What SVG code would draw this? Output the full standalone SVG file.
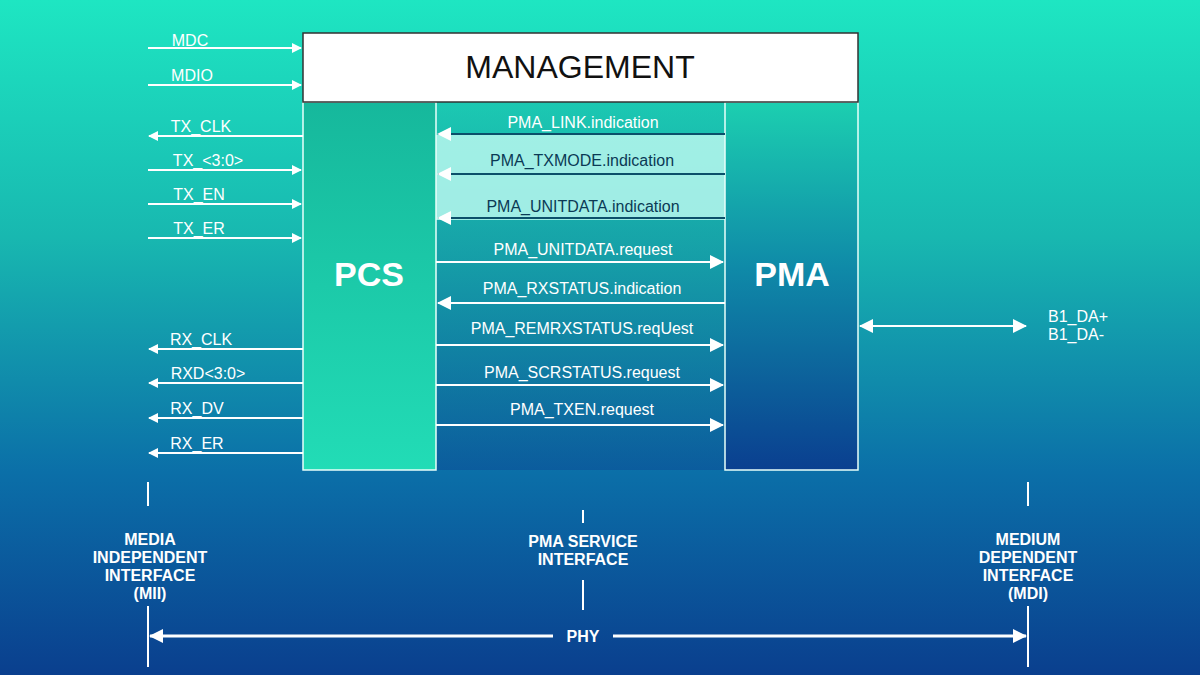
<svg xmlns="http://www.w3.org/2000/svg" width="1200" height="675" viewBox="0 0 1200 675">
<defs>
<linearGradient id="bg" x1="0" y1="0" x2="0" y2="1"><stop offset="0" stop-color="#1ee6c2"/><stop offset="0.35" stop-color="#18b8b0"/><stop offset="0.7" stop-color="#0b6fa8"/><stop offset="1" stop-color="#0a3f8e"/></linearGradient>
<linearGradient id="pcs" x1="0" y1="0" x2="0" y2="1"><stop offset="0" stop-color="#16b89c"/><stop offset="1" stop-color="#22dcb6"/></linearGradient>
<linearGradient id="pma" x1="0" y1="0" x2="0" y2="1"><stop offset="0" stop-color="#1ccfb0"/><stop offset="0.45" stop-color="#0f8aa8"/><stop offset="1" stop-color="#0a3f90"/></linearGradient>
<linearGradient id="mid" x1="0" y1="0" x2="0" y2="1"><stop offset="0" stop-color="#1cc2ac"/><stop offset="1" stop-color="#0b4f96"/></linearGradient>
<marker id="ah" markerWidth="10" markerHeight="10" refX="9" refY="5" orient="auto-start-reverse" markerUnits="userSpaceOnUse"><path d="M0,0 L10,5 L0,10 z" fill="#fff"/></marker>
<marker id="ahw" markerWidth="14" markerHeight="14" refX="13" refY="7" orient="auto-start-reverse" markerUnits="userSpaceOnUse"><path d="M0,0 L14,7 L0,14 z" fill="#fff"/></marker>
<style>
.l{stroke:#fff;stroke-width:2;fill:none}
.d{stroke:#0b4f6a;stroke-width:2;fill:none}
.t{font-family:"Liberation Sans",Arial,sans-serif;font-size:16px;fill:#fff;text-anchor:middle}
.td{font-family:"Liberation Sans",Arial,sans-serif;font-size:16px;fill:#0b3a55;text-anchor:middle}
.b{font-family:"Liberation Sans",Arial,sans-serif;font-size:16px;font-weight:bold;fill:#fff;text-anchor:middle}
.big{font-family:"Liberation Sans",Arial,sans-serif;font-size:34px;font-weight:bold;fill:#fff;text-anchor:middle}
</style>
</defs>
<rect width="1200" height="675" fill="url(#bg)"/>
<rect x="436" y="102" width="289" height="368" fill="url(#mid)" opacity="0.6"/>
<rect x="436" y="135" width="289" height="85" fill="#b8f8ee" opacity="0.85"/>
<g id="pcs-node"><rect x="303" y="102" width="133" height="368" fill="url(#pcs)" stroke="#e8fffa" stroke-width="1.5"/><text class="big" x="369" y="286">PCS</text></g>
<g id="pma-node"><rect x="725" y="102" width="133" height="368" fill="url(#pma)" stroke="#e8fffa" stroke-width="1.5"/><text class="big" x="792" y="286">PMA</text></g>
<g id="management"><rect x="303" y="33" width="555" height="69" fill="#fff" stroke="#333" stroke-width="1.5"/><text x="580" y="78" font-family="Liberation Sans,Arial,sans-serif" font-size="32" fill="#111" text-anchor="middle">MANAGEMENT</text></g>
<g id="connectors">
<line class="l" x1="148" y1="48" x2="301" y2="48" marker-end="url(#ah)"/>
<line class="l" x1="148" y1="85" x2="301" y2="85" marker-end="url(#ah)"/>
<line class="l" x1="303" y1="136" x2="149" y2="136" marker-end="url(#ah)"/>
<line class="l" x1="148" y1="170" x2="301" y2="170" marker-end="url(#ah)"/>
<line class="l" x1="148" y1="204" x2="301" y2="204" marker-end="url(#ah)"/>
<line class="l" x1="148" y1="238" x2="301" y2="238" marker-end="url(#ah)"/>
<line class="l" x1="303" y1="349" x2="149" y2="349" marker-end="url(#ah)"/>
<line class="l" x1="303" y1="383" x2="149" y2="383" marker-end="url(#ah)"/>
<line class="l" x1="303" y1="418" x2="149" y2="418" marker-end="url(#ah)"/>
<line class="l" x1="303" y1="453" x2="149" y2="453" marker-end="url(#ah)"/>
<line class="d" x1="725" y1="134" x2="438" y2="134" marker-end="url(#ahw)"/>
<line class="d" x1="725" y1="174" x2="438" y2="174" marker-end="url(#ahw)"/>
<line class="d" x1="725" y1="218" x2="438" y2="218" marker-end="url(#ahw)"/>
<line class="l" x1="436" y1="262" x2="723" y2="262" marker-end="url(#ahw)"/>
<line class="l" x1="725" y1="303" x2="438" y2="303" marker-end="url(#ahw)"/>
<line class="l" x1="436" y1="345" x2="723" y2="345" marker-end="url(#ahw)"/>
<line class="l" x1="436" y1="385" x2="723" y2="385" marker-end="url(#ahw)"/>
<line class="l" x1="436" y1="425" x2="723" y2="425" marker-end="url(#ahw)"/>
<line class="l" x1="860" y1="326" x2="1026" y2="326" marker-start="url(#ahw)" marker-end="url(#ahw)"/>
<line class="l" x1="148" y1="482" x2="148" y2="506"/><line class="l" x1="148" y1="606" x2="148" y2="667"/>
<line class="l" x1="1028" y1="482" x2="1028" y2="506"/><line class="l" x1="1028" y1="606" x2="1028" y2="667"/>
<line class="l" x1="583" y1="510" x2="583" y2="523"/><line class="l" x1="583" y1="580" x2="583" y2="610"/>
<line x1="150" y1="636" x2="553" y2="636" stroke="#fff" stroke-width="3" marker-start="url(#ahw)"/>
<line x1="613" y1="636" x2="1026" y2="636" stroke="#fff" stroke-width="3" marker-end="url(#ahw)"/>
</g>
<g id="labels">
<text class="t" x="190" y="46">MDC</text>
<text class="t" x="192" y="81">MDIO</text>
<text class="t" x="201" y="132">TX_CLK</text>
<text class="t" x="208" y="166">TX_&lt;3:0&gt;</text>
<text class="t" x="199" y="200">TX_EN</text>
<text class="t" x="199" y="234">TX_ER</text>
<text class="t" x="201" y="345">RX_CLK</text>
<text class="t" x="208" y="379">RXD&lt;3:0&gt;</text>
<text class="t" x="197" y="414">RX_DV</text>
<text class="t" x="197" y="449">RX_ER</text>
<text class="t" x="583" y="128">PMA_LINK.indication</text>
<text class="td" x="582" y="166">PMA_TXMODE.indication</text>
<text class="td" x="583" y="212">PMA_UNITDATA.indication</text>
<text class="t" x="583" y="255">PMA_UNITDATA.request</text>
<text class="t" x="582" y="294">PMA_RXSTATUS.indication</text>
<text class="t" x="582" y="334">PMA_REMRXSTATUS.reqUest</text>
<text class="t" x="582" y="378">PMA_SCRSTATUS.request</text>
<text class="t" x="582" y="415">PMA_TXEN.request</text>
<text x="1048" y="322" font-family="Liberation Sans,Arial,sans-serif" font-size="16" fill="#fff">B1_DA+</text>
<text x="1048" y="340" font-family="Liberation Sans,Arial,sans-serif" font-size="16" fill="#fff">B1_DA-</text>
<text class="b"><tspan x="150" y="545">MEDIA</tspan><tspan x="150" y="563">INDEPENDENT</tspan><tspan x="150" y="581">INTERFACE</tspan><tspan x="150" y="599">(MII)</tspan></text>
<text class="b"><tspan x="583" y="547">PMA SERVICE</tspan><tspan x="583" y="565">INTERFACE</tspan></text>
<text class="b"><tspan x="1028" y="545">MEDIUM</tspan><tspan x="1028" y="563">DEPENDENT</tspan><tspan x="1028" y="581">INTERFACE</tspan><tspan x="1028" y="599">(MDI)</tspan></text>
<text class="b" x="583" y="642">PHY</text>
</g>
</svg>
